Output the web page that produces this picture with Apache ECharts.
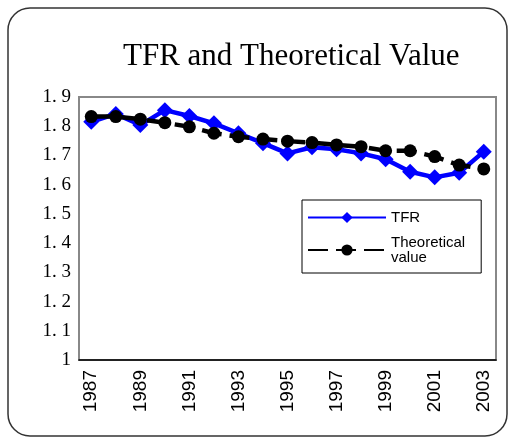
<!DOCTYPE html>
<html>
<head>
<meta charset="utf-8">
<script src="https://cdn.jsdelivr.net/npm/echarts@6/dist/echarts.min.js"></script>
<style>
  html, body { margin: 0; padding: 0; background: #fff; }
  #main { width: 510px; height: 441px; }
</style>
</head>
<body>
<div id="main"></div>
<script>
// years on the x axis
var years = ['1987','1988','1989','1990','1991','1992','1993','1994','1995',
             '1996','1997','1998','1999','2000','2001','2002','2003'];
// total fertility rate
var tfr = [1.815, 1.842, 1.804, 1.855, 1.835, 1.81, 1.776, 1.742, 1.707,
           1.728, 1.721, 1.707, 1.687, 1.644, 1.625, 1.641, 1.713];
// theoretical value
var theo = [1.833, 1.833, 1.824, 1.812, 1.798, 1.776, 1.764, 1.756, 1.749,
            1.744, 1.736, 1.730, 1.716, 1.716, 1.696, 1.667, 1.654];

var myChart = echarts.init(document.getElementById('main'));

var option = {
    animation: false,
    backgroundColor: '#fff',
    title: {
        text: 'TFR and Theoretical Value',
        left: 118,
        top: 36,
        textStyle: {
            fontFamily: 'Liberation Serif',
            fontWeight: 'normal',
            fontSize: 31,
            color: '#000'
        }
    },
    graphic: [{
        type: 'rect',
        shape: { x: 8, y: 8, width: 499, height: 428, r: 22 },
        style: { fill: 'none', stroke: '#333', lineWidth: 1.5 },
        silent: true
    }],
    legend: {
        orient: 'vertical',
        left: 302,
        top: 200,
        padding: [10, 16, 8, 5],
        itemGap: 10,
        itemWidth: 78,
        itemHeight: 14,
        backgroundColor: '#fff',
        borderColor: '#000',
        borderWidth: 1,
        textStyle: {
            fontFamily: 'Liberation Sans',
            fontSize: 15,
            color: '#000',
            lineHeight: 15
        },
        data: ['TFR', 'Theoretical\nvalue']
    },
    grid: {
        left: 79,
        right: 14,
        top: 97,
        bottom: 81,
        show: true,
        borderColor: '#888',
        borderWidth: 2
    },
    xAxis: {
        type: 'category',
        data: years,
        boundaryGap: true,
        axisLine: { lineStyle: { color: '#000', width: 1.5 } },
        axisTick: { inside: true, length: 5, lineStyle: { color: '#000' } },
        axisLabel: {
            rotate: 90,
            interval: 1,
            margin: 10,
            fontFamily: 'Liberation Sans',
            fontSize: 19,
            color: '#000'
        },
        splitLine: { show: false }
    },
    yAxis: {
        type: 'value',
        min: 1,
        max: 1.9,
        interval: 0.1,
        axisLine: { show: true, lineStyle: { color: '#888', width: 2 } },
        axisTick: { show: false },
        splitLine: { show: false },
        axisLabel: {
            margin: 8,
            padding: [5, 0, 0, 0],
            fontFamily: 'Liberation Serif',
            fontSize: 19,
            color: '#000',
            formatter: function (v) {
                if (Math.abs(v - 1) < 1e-9) return '1';
                return v.toFixed(1).replace('.', '. ');
            }
        }
    },
    series: [
        {
            name: 'TFR',
            type: 'line',
            data: tfr,
            symbol: 'diamond',
            symbolSize: 16,
            itemStyle: { color: '#0000ff' },
            lineStyle: { color: '#0000ff', width: 4.5 },
            z: 2
        },
        {
            name: 'Theoretical\nvalue',
            type: 'line',
            data: theo,
            symbol: 'circle',
            symbolSize: 13,
            itemStyle: { color: '#000' },
            lineStyle: { color: '#000', width: 4.5, type: [20, 8] },
            z: 3
        }
    ]
};

myChart.setOption(option);
</script>
</body>
</html>
